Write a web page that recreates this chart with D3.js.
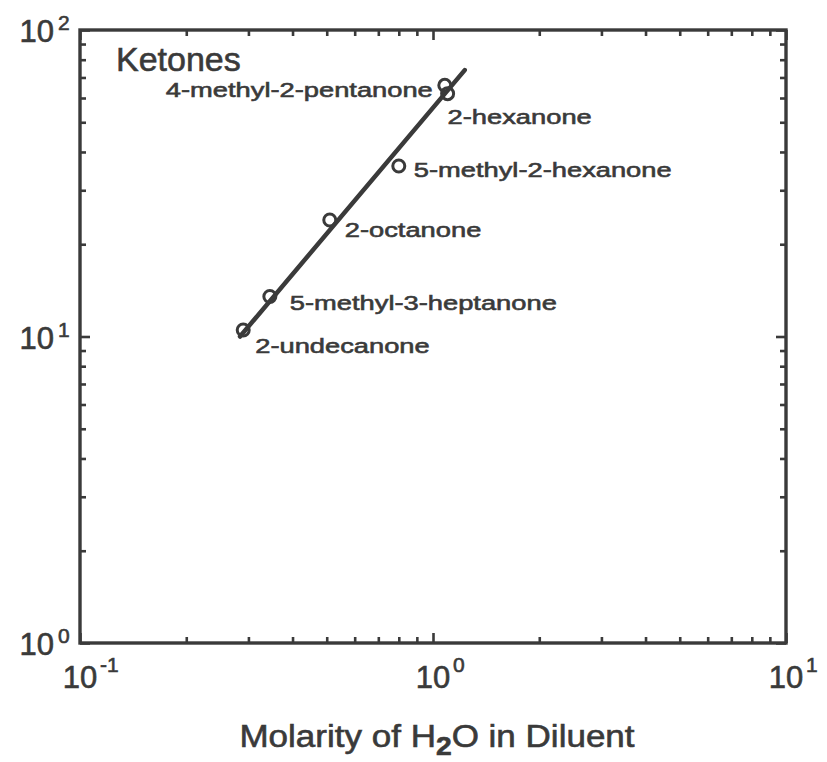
<!DOCTYPE html>
<html>
<head>
<meta charset="utf-8">
<script src="https://cdn.jsdelivr.net/npm/d3@7"></script>
<style>
  html, body { margin: 0; padding: 0; background: #fff; }
  svg { display: block; }
  text { font-family: "Liberation Sans", Arial, Helvetica, sans-serif; fill: #3a3a3a;
         stroke: #3a3a3a; stroke-width: 0.6; }
</style>
</head>
<body>
<svg id="chart" width="827" height="762"></svg>
<script>
// Ketones: distribution vs. molarity of water in the diluent (log-log)
const compounds = ["4-methyl-2-pentanone", "2-hexanone", "5-methyl-2-hexanone",
                   "2-octanone", "5-methyl-3-heptanone", "2-undecanone"];
const waterMolarity = [1.08, 1.10, 0.80, 0.51, 0.345, 0.29];
const ratio = [66, 62, 36, 24, 13.5, 10.5];

// Fitted straight line (two end points, log-log)
const fitX = [0.284, 1.23];
const fitY = [10.0, 74];

const xTickValues = [0.1, 1, 10];
const xTickExponents = ["-1", "0", "1"];
const yTickValues = [1, 10, 100];
const yTickExponents = ["0", "1", "2"];

const groupTitle = "Ketones";

// Label placement relative to each marker: [dx, dy, anchor]
const labelPlacement = [
  [-12, 12, "end"],
  [0, 30, "start"],
  [15, 11, "start"],
  [15, 17, "start"],
  [20, 13, "start"],
  [12, 23, "start"]
];

const ink = "#3a3a3a";
const svg = d3.select("#chart");
const plotLeft = 80, plotRight = 786, plotTop = 30, plotBottom = 643;

const x = d3.scaleLog().domain([0.1, 10]).range([plotLeft, plotRight]);
const y = d3.scaleLog().domain([1, 100]).range([plotBottom, plotTop]);

// minor tick values for each decade
function minors(lo, hi) {
  const out = [];
  for (let e = Math.log10(lo); e < Math.log10(hi); e++) {
    for (let k = 2; k <= 9; k++) out.push(k * Math.pow(10, e));
  }
  return out;
}
const xMinor = minors(0.1, 10);
const yMinor = minors(1, 100);

function styleAxis(g) {
  g.select(".domain").remove();
  g.selectAll(".tick line").attr("stroke", ink).attr("stroke-width", 2.6);
  g.selectAll(".tick text").remove();
}

// inward ticks on all four sides
svg.append("g").attr("transform", `translate(0,${plotBottom})`)
  .call(d3.axisBottom(x).tickValues(xTickValues).tickSize(-10).tickFormat(""))
  .call(styleAxis);
svg.append("g").attr("transform", `translate(0,${plotBottom})`)
  .call(d3.axisBottom(x).tickValues(xMinor).tickSize(-6).tickFormat(""))
  .call(styleAxis);
svg.append("g").attr("transform", `translate(0,${plotTop})`)
  .call(d3.axisTop(x).tickValues(xTickValues).tickSize(-10).tickFormat(""))
  .call(styleAxis);
svg.append("g").attr("transform", `translate(0,${plotTop})`)
  .call(d3.axisTop(x).tickValues(xMinor).tickSize(-6).tickFormat(""))
  .call(styleAxis);
svg.append("g").attr("transform", `translate(${plotLeft},0)`)
  .call(d3.axisLeft(y).tickValues(yTickValues).tickSize(-10).tickFormat(""))
  .call(styleAxis);
svg.append("g").attr("transform", `translate(${plotLeft},0)`)
  .call(d3.axisLeft(y).tickValues(yMinor).tickSize(-6).tickFormat(""))
  .call(styleAxis);
svg.append("g").attr("transform", `translate(${plotRight},0)`)
  .call(d3.axisRight(y).tickValues(yTickValues).tickSize(-10).tickFormat(""))
  .call(styleAxis);
svg.append("g").attr("transform", `translate(${plotRight},0)`)
  .call(d3.axisRight(y).tickValues(yMinor).tickSize(-6).tickFormat(""))
  .call(styleAxis);

// frame
svg.append("rect")
  .attr("x", plotLeft).attr("y", plotTop)
  .attr("width", plotRight - plotLeft).attr("height", plotBottom - plotTop)
  .attr("fill", "none").attr("stroke", ink).attr("stroke-width", 3.4);

// x tick labels: 10 with superscript exponent
const xLab = svg.append("g").selectAll("g").data(xTickValues).join("g")
  .attr("transform", d => `translate(${x(d)},${plotBottom + 45})`);
xLab.append("text").attr("text-anchor", "middle").attr("font-size", 31).text("10");
xLab.append("text").attr("x", 20).attr("y", -16).attr("font-size", 21)
  .text((d, i) => xTickExponents[i]);

// y tick labels
const yLab = svg.append("g").selectAll("g").data(yTickValues).join("g")
  .attr("transform", d => `translate(${plotLeft},${y(d) + 12})`);
yLab.append("text").attr("x", -26).attr("text-anchor", "end").attr("font-size", 31).text("10");
yLab.append("text").attr("x", -22).attr("y", -12).attr("font-size", 21)
  .text((d, i) => yTickExponents[i]);

// x axis title with subscript
const title = svg.append("text")
  .attr("transform", `translate(${(plotLeft + plotRight) / 2 + 4},747) scale(1.13,1)`)
  .attr("text-anchor", "middle").attr("font-size", 31);
title.append("tspan").text("Molarity of H");
title.append("tspan").attr("dy", 8).attr("font-size", 25).attr("font-weight", "bold").text("2");
title.append("tspan").attr("dy", -8).text("O in Diluent");

// fitted line
svg.append("line")
  .attr("x1", x(fitX[0])).attr("y1", y(fitY[0]))
  .attr("x2", x(fitX[1])).attr("y2", y(fitY[1]))
  .attr("stroke", ink).attr("stroke-width", 4.5).attr("stroke-linecap", "round");

// markers
const pts = compounds.map((name, i) => ({ name, mx: waterMolarity[i], my: ratio[i], i }));
svg.append("g").selectAll("circle").data(pts).join("circle")
  .attr("cx", d => x(d.mx)).attr("cy", d => y(d.my)).attr("r", 6)
  .attr("fill", "none").attr("stroke", ink).attr("stroke-width", 3);

// compound labels (wide sans lettering)
svg.append("g").selectAll("text").data(pts).join("text")
  .attr("transform", d => `translate(${x(d.mx) + labelPlacement[d.i][0]},${y(d.my) + labelPlacement[d.i][1]}) scale(1.3,1)`)
  .attr("text-anchor", d => labelPlacement[d.i][2])
  .attr("font-size", 21)
  .text(d => d.name);

// group title
svg.append("text").attr("x", 116).attr("y", 71).attr("font-size", 34).text(groupTitle);
</script>
</body>
</html>
